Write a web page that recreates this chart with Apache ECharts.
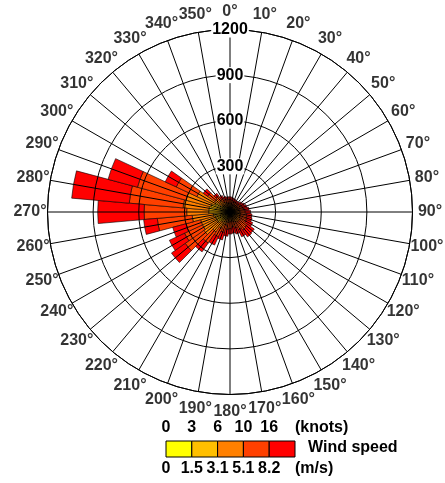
<!DOCTYPE html>
<html>
<head>
<meta charset="utf-8">
<script src="https://cdn.jsdelivr.net/npm/echarts@6/dist/echarts.min.js"></script>
<style>
  html, body { margin: 0; padding: 0; background: #fff; }
  #rose { width: 445px; height: 483px; }
</style>
</head>
<body>
<div id="rose"></div>
<script>
// directions, every 10 degrees
var directions = [0, 10, 20, 30, 40, 50, 60, 70, 80, 90, 100, 110, 120, 130, 140, 150, 160, 170,
  180, 190, 200, 210, 220, 230, 240, 250, 260, 270, 280, 290, 300, 310, 320, 330, 340, 350];

// counts per speed class (m/s)
var speed0 = [10, 10, 10, 10, 10, 10, 10, 10, 10, 10, 10, 10, 10, 10, 10, 10, 10, 10,
  10, 10, 12, 15, 15, 20, 20, 20, 20, 25, 25, 25, 20, 12, 12, 12, 10, 10];
var speed1 = [22, 20, 18, 16, 16, 18, 20, 20, 22, 25, 25, 25, 25, 25, 25, 25, 20, 20,
  20, 25, 33, 45, 65, 80, 80, 80, 90, 115, 115, 105, 90, 48, 38, 28, 24, 22];
var speed2 = [26, 25, 22, 22, 22, 22, 25, 28, 28, 30, 35, 35, 35, 45, 45, 40, 35, 30,
  35, 35, 45, 60, 80, 110, 100, 100, 140, 145, 170, 170, 130, 60, 45, 35, 28, 26];
var speed3 = [24, 23, 22, 22, 22, 25, 27, 30, 35, 35, 40, 45, 50, 60, 65, 55, 45, 40,
  45, 45, 50, 60, 90, 150, 130, 100, 230, 280, 355, 330, 150, 60, 35, 25, 26, 24];
var speed4 = [18, 17, 18, 15, 15, 20, 23, 27, 30, 35, 35, 35, 45, 55, 55, 50, 40, 40,
  35, 45, 50, 60, 70, 110, 110, 90, 90, 305, 380, 200, 80, 35, 20, 20, 17, 18];

var speedColors = ['#ffff00', '#ffbf00', '#ff8000', '#ff4000', '#ff0000'];
var speedNames = ['0-1.5', '1.5-3.1', '3.1-5.1', '5.1-8.2', '>8.2'];
var knotsLabels = ['0', '3', '6', '10', '16'];
var msLabels = ['0', '1.5', '3.1', '5.1', '8.2'];

var font = '"Liberation Sans", Arial, sans-serif';
var cx = 230, cy = 212;

var chart = echarts.init(document.getElementById('rose'));

var series = [speed0, speed1, speed2, speed3, speed4].map(function (d, i) {
  return {
    name: speedNames[i],
    type: 'bar',
    coordinateSystem: 'polar',
    polarIndex: 0,
    stack: 'wind',
    barCategoryGap: '0%',
    itemStyle: { color: speedColors[i], borderColor: '#000', borderWidth: 0.6 },
    data: d
  };
});

// direction labels
series.push({
  type: 'scatter',
  coordinateSystem: 'polar',
  polarIndex: 2,
  clip: false,
  symbolSize: 1,
  itemStyle: { color: 'rgba(0,0,0,0)' },
  label: {
    show: true,
    position: 'inside',
    color: '#000',
    textBorderWidth: 0,
    fontFamily: font,
    fontWeight: 'bold',
    fontSize: 16,
    formatter: function (p) { return p.value[1] + '°'; }
  },
  data: directions.map(function (a) { return [1, a]; })
});

// legend pieces
var boxX = 166, boxW = 25.8, boxY = 441, boxH = 16;
var graphics = [];
speedColors.forEach(function (c, i) {
  graphics.push({
    type: 'rect',
    shape: { x: boxX + i * boxW, y: boxY, width: boxW, height: boxH },
    style: { fill: c, stroke: '#000', lineWidth: 1 }
  });
});
knotsLabels.forEach(function (t, i) {
  graphics.push({
    type: 'text', x: boxX + i * boxW, y: 428,
    style: { text: t, font: 'bold 16px ' + font, fill: '#000', align: 'center', verticalAlign: 'middle' }
  });
});
msLabels.forEach(function (t, i) {
  graphics.push({
    type: 'text', x: boxX + i * boxW, y: 469,
    style: { text: t, font: 'bold 16px ' + font, fill: '#000', align: 'center', verticalAlign: 'middle' }
  });
});
graphics.push({
  type: 'text', x: 295, y: 428,
  style: { text: '(knots)', font: 'bold 16px ' + font, fill: '#000', align: 'left', verticalAlign: 'middle' }
});
graphics.push({
  type: 'text', x: 295, y: 469,
  style: { text: '(m/s)', font: 'bold 16px ' + font, fill: '#000', align: 'left', verticalAlign: 'middle' }
});
graphics.push({
  type: 'text', x: 308, y: 448,
  style: { text: 'Wind speed', font: 'bold 16px ' + font, fill: '#000', align: 'left', verticalAlign: 'middle' }
});

chart.setOption({
  backgroundColor: '#fff',
  animation: false,
  polar: [
    { center: [cx, cy], radius: 182.5 },
    { center: [cx, cy], radius: 182.5 },
    { center: [cx, cy], radius: 200 }
  ],
  angleAxis: [
    { polarIndex: 0, type: 'category', data: directions, startAngle: 95, show: false },
    {
      polarIndex: 1, type: 'value', min: 0, max: 360, interval: 10, startAngle: 90, z: 5,
      axisLine: { show: true, lineStyle: { color: '#000', width: 1 } },
      axisTick: { show: false },
      axisLabel: { show: false },
      splitLine: { show: true, lineStyle: { color: '#000', width: 1 } }
    },
    { polarIndex: 2, type: 'value', min: 0, max: 360, startAngle: 90, show: false }
  ],
  radiusAxis: [
    { polarIndex: 0, type: 'value', min: 0, max: 1200, show: false },
    {
      polarIndex: 1, type: 'value', min: 0, max: 1200, interval: 300, z: 6,
      axisLine: { show: false },
      axisTick: { show: false },
      splitLine: { show: true, lineStyle: { color: '#000', width: 1 } },
      axisLabel: {
        showMinLabel: false,
        margin: 0,
        align: 'center',
        verticalAlign: 'middle',
        backgroundColor: '#fff',
        padding: [0, 1],
        color: '#000',
        fontFamily: font,
        fontWeight: 'bold',
        fontSize: 16,
        formatter: function (v) { return String(v); }
      }
    },
    { polarIndex: 2, type: 'value', min: 0, max: 1, show: false }
  ],
  graphic: graphics,
  series: series
});
</script>
</body>
</html>
